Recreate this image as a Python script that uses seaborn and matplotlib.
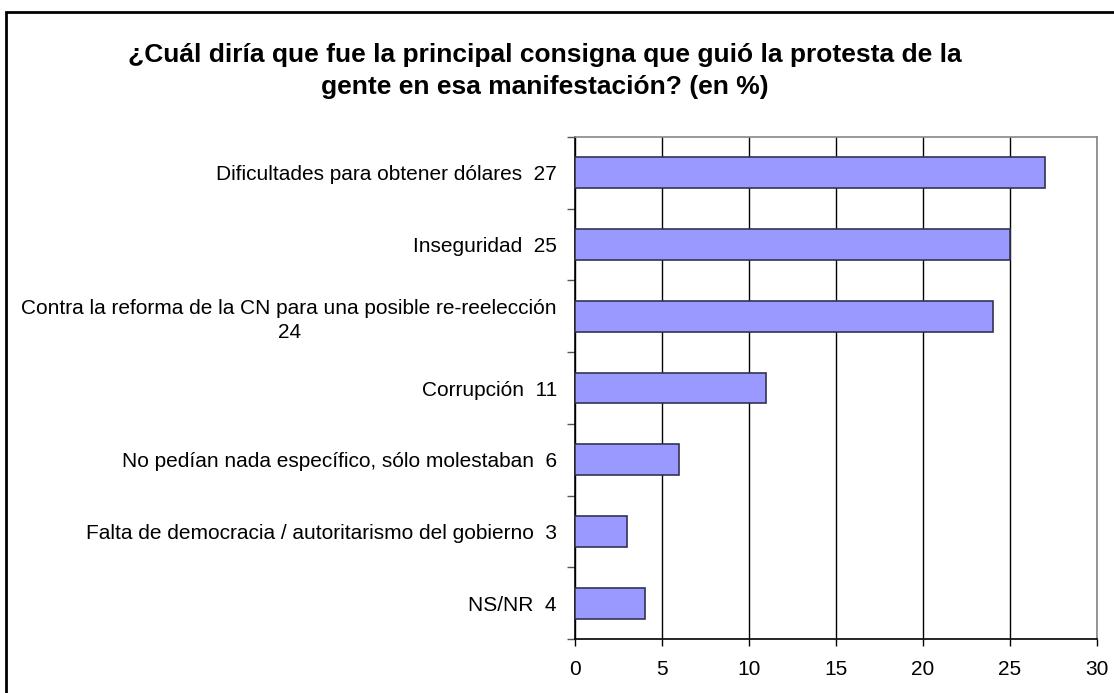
import numpy as np
import pandas as pd
import seaborn as sns
import matplotlib.pyplot as plt
from matplotlib.patches import Rectangle

# data
categories = [
    "Dificultades para obtener dólares",
    "Inseguridad",
    "Contra la reforma de la CN para una posible re-reelección",
    "Corrupción",
    "No pedían nada específico, sólo molestaban",
    "Falta de democracia / autoritarismo del gobierno",
    "NS/NR",
]
values = [27, 25, 24, 11, 6, 3, 4]
tick_labels = [
    "Dificultades para obtener dólares  27",
    "Inseguridad  25",
    "Contra la reforma de la CN para una posible re-reelección\n24",
    "Corrupción  11",
    "No pedían nada específico, sólo molestaban  6",
    "Falta de democracia / autoritarismo del gobierno  3",
    "NS/NR  4",
]
x_ticks = [0, 5, 10, 15, 20, 25, 30]

title = ("¿Cuál diría que fue la principal consigna que guió la protesta de la\n"
         "gente en esa manifestación? (en %)")

sns.set_style("white")
plt.rcParams['font.family'] = ['Liberation Sans', 'DejaVu Sans']
plt.rcParams['text.color'] = 'black'
plt.rcParams['xtick.color'] = 'black'
plt.rcParams['ytick.color'] = 'black'

df = pd.DataFrame({"cat": categories, "val": values})

fig = plt.figure(figsize=(11.14, 6.93), dpi=100)
W, H = 1114, 693
ax = fig.add_axes([575 / W, (693 - 639) / H, (1097 - 575) / W, (639 - 137) / H])

sns.barplot(data=df, x="val", y="cat", orient="h", color="#9999ff",
            saturation=1, width=0.43, edgecolor="#333355", linewidth=1.2, ax=ax, zorder=3)

ax.set_xlim(0, 30)
ax.set_ylim(len(categories) - 0.5, -0.5)
ax.set_xticks(x_ticks)
ax.set_xticklabels([str(t) for t in x_ticks], fontsize=15)
ax.set_yticks(range(len(categories)))
ax.set_yticklabels(tick_labels, fontsize=15)
for lab in ax.get_yticklabels():
    lab.set_multialignment("center")
    lab.set_linespacing(1.3)
ax.set_yticks(np.arange(-0.5, len(categories), 1.0), minor=True)
ax.tick_params(axis="y", which="major", length=0, pad=13)
ax.tick_params(axis="y", which="minor", length=6, width=1, color="#555555", direction="out", left=True)
ax.tick_params(axis="x", which="major", length=5, width=1, color="black", direction="out", bottom=True, pad=10)
ax.set_xlabel("")
ax.set_ylabel("")

ax.grid(axis="x", color="black", linewidth=1, zorder=0)
ax.set_axisbelow(True)
for side in ["top", "right"]:
    ax.spines[side].set_color("#888888")
    ax.spines[side].set_linewidth(1.2)
for side in ["left", "bottom"]:
    ax.spines[side].set_color("black")
    ax.spines[side].set_linewidth(1.2)

fig.text(545 / W, 1 - 71 / H, title, ha="center", va="center", fontsize=19,
         fontweight="bold", linespacing=1.4)

# outer chart frame
fig.patches.append(Rectangle((6 / W, -0.1), 1.2, 1 - 12 / H + 0.1, transform=fig.transFigure,
                             fill=False, edgecolor="black", linewidth=2, clip_on=False))

fig.savefig("out.png", dpi=100, facecolor="white")
